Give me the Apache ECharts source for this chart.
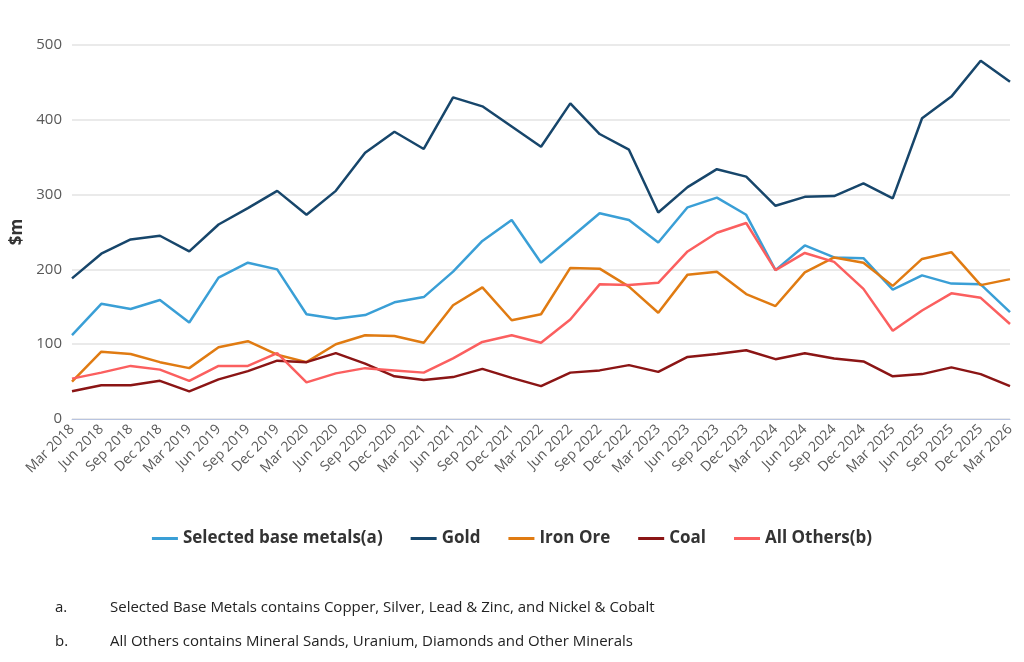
<!DOCTYPE html>
<html><head><meta charset="utf-8">
<script src="https://cdn.jsdelivr.net/npm/echarts@6/dist/echarts.min.js"></script>
<style>body{margin:0;background:#fff}#c{width:1024px;height:662px}</style>
</head><body><div id="c"></div>
<script>
const categories = [];
const months=['Mar','Jun','Sep','Dec'];
for(let y=2018;y<=2026;y++){for(const m of months){if(y===2026&&m!=='Mar')break;categories.push(m+' '+y);}}
const baseMetals=[112,154,147,159,129,189,209,200,140,134,139,156,163,197,238,266,209,242,275,266,236,283,296,273,199,232,216,215,173,192,181,180,143];
const gold=[188,221,240,245,224,260,282,305,273,305,356,384,361,430,418,391,364,422,381,360,276,310,334,324,285,297,298,315,295,402,431,479,451];
const ironOre=[50,90,87,76,68,96,104,86,76,100,112,111,102,152,176,132,140,202,201,177,142,193,197,167,151,196,216,209,178,214,223,179,187];
const coal=[37,45,45,51,37,53,64,78,76,88,74,57,52,56,67,55,44,62,65,72,63,83,87,92,80,88,81,77,57,60,69,60,44];
const others=[54,62,71,66,51,71,71,88,49,61,68,65,62,81,103,112,102,133,180,179,182,224,249,262,199,222,210,174,118,145,168,162,127];
const F='"Open Sans", "Noto Sans", sans-serif';
const mk=(name,data,color)=>({name,type:'line',data,symbol:'none',lineStyle:{width:2.5,color},itemStyle:{color}});
echarts.init(document.getElementById('c')).setOption({
 animation:false,
 grid:{left:72,right:14,top:45,bottom:243,containLabel:false},
 legend:{bottom:110,left:'center',itemWidth:26,itemHeight:3,itemGap:28,icon:'rect',
   textStyle:{fontFamily:F,fontSize:17,fontWeight:'bold',color:'#333'}},
 xAxis:{type:'category',data:categories,boundaryGap:false,
   axisLine:{lineStyle:{color:'#b8c4e0'}},axisTick:{show:false},
   axisLabel:{rotate:45,interval:0,fontFamily:F,fontSize:14,color:'#595959',margin:8}},
 yAxis:{type:'value',min:0,max:500,interval:100,name:'$m',nameLocation:'middle',nameGap:44,
   nameTextStyle:{fontFamily:F,fontSize:17,fontWeight:'bold',color:'#333'},
   axisLabel:{fontFamily:F,fontSize:15,color:'#595959',margin:10},
   splitLine:{lineStyle:{color:'#e3e3e3',width:1.5}}},
 graphic:[
  {type:'text',left:55,top:600,style:{text:'a.',font:'15px '+F,fill:'#222'}},
  {type:'text',left:110,top:600,style:{text:'Selected Base Metals contains Copper, Silver, Lead & Zinc, and Nickel & Cobalt',font:'15px '+F,fill:'#222'}},
  {type:'text',left:55,top:634,style:{text:'b.',font:'15px '+F,fill:'#222'}},
  {type:'text',left:110,top:634,style:{text:'All Others contains Mineral Sands, Uranium, Diamonds and Other Minerals',font:'15px '+F,fill:'#222'}}
 ],
 series:[mk('Selected base metals(a)',baseMetals,'#3a9fd6'),mk('Gold',gold,'#17466b'),
   mk('Iron Ore',ironOre,'#e07b12'),mk('Coal',coal,'#8b1515'),mk('All Others(b)',others,'#fb5f5f')]
});
</script></body></html>
